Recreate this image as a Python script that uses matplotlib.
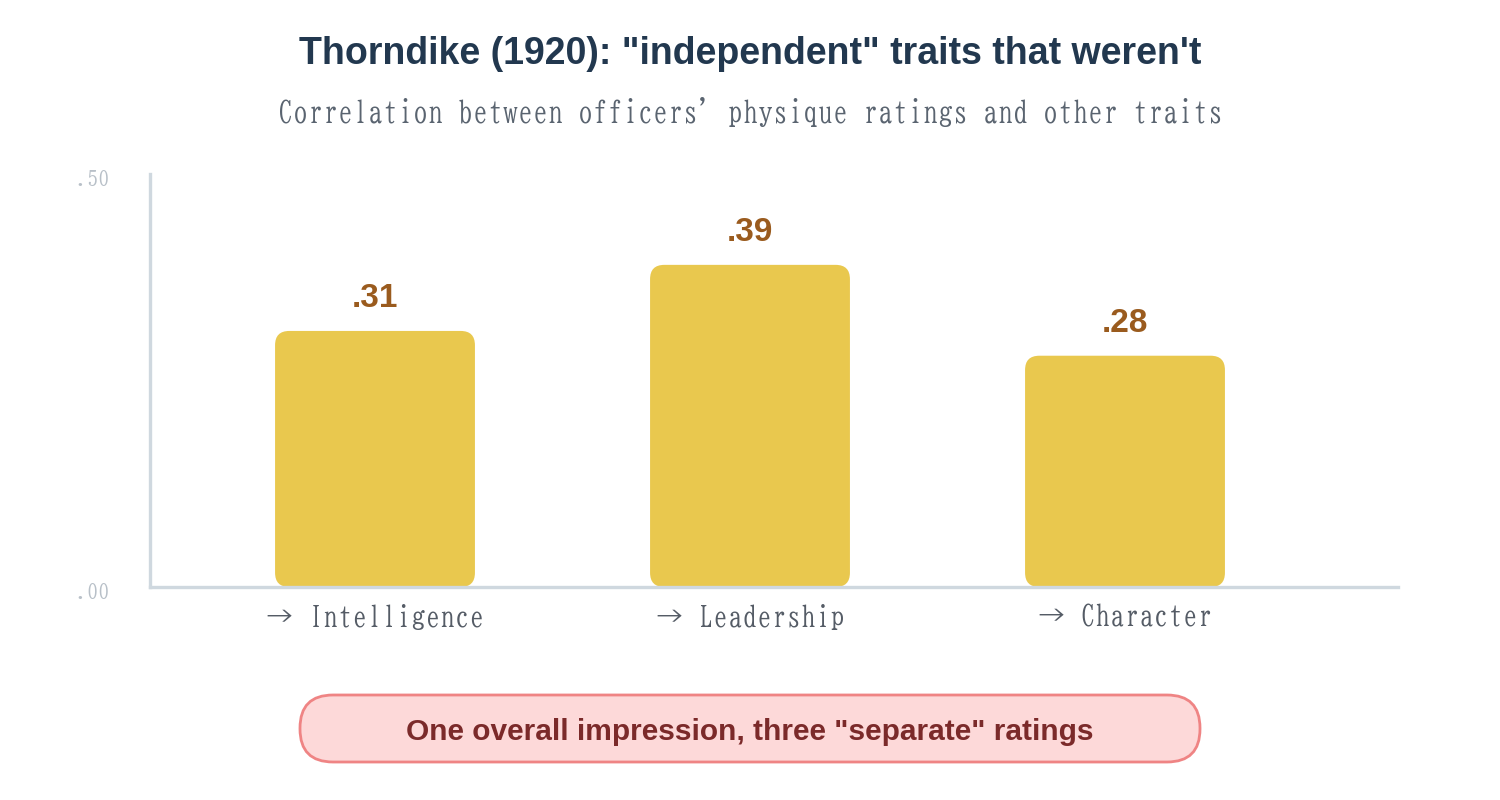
import matplotlib
matplotlib.use("Agg")
import matplotlib.pyplot as plt
from matplotlib.patches import FancyBboxPatch
from matplotlib.transforms import ScaledTranslation

categories = ["Intelligence", "Leadership", "Character"]
values = [0.31, 0.39, 0.28]
value_labels = [".31", ".39", ".28"]
ytick_values = [0.0, 0.5]
ytick_labels = [".00", ".50"]

title = "Thorndike (1920): \"independent\" traits that weren't"
subtitle = "Correlation between officers' physique ratings and other traits"
note = "One overall impression, three \"separate\" ratings"

MINCHO = ["BIZ UDMincho", "DejaVu Serif"]
SANS = ["Liberation Sans", "DejaVu Sans"]

fig = plt.figure(figsize=(15, 8), dpi=100)

# full-figure overlay in pixel units for the note box
bg = fig.add_axes([0, 0, 1, 1], zorder=0)
bg.set_xlim(0, 1500)
bg.set_ylim(800, 0)
bg.axis("off")

ax = fig.add_axes([0.1, 0.26625, 0.832, 0.51625], zorder=1)
ax.patch.set_alpha(0)

x_unit_px = 375.0
y_unit_px = 825.6
bar_w = 0.533
rad = 0.038
for i, v in enumerate(values):
    p = FancyBboxPatch((i - bar_w / 2, 0), bar_w, v,
                       boxstyle=f"round,pad=0,rounding_size={rad}",
                       mutation_aspect=x_unit_px / y_unit_px,
                       facecolor="#E9C84E", edgecolor="none", zorder=2)
    ax.add_patch(p)
    ax.text(i, v + 0.039, value_labels[i], ha="center", va="center",
            fontsize=24, fontweight="bold", color="#9A5B1E", family=SANS)

ax.set_xlim(-0.6, 2.728)
ax.set_ylim(0, 0.5)
ax.set_xticks(range(len(categories)))
ax.set_xticklabels(["\u2192 " + c for c in categories], family=MINCHO,
                   fontsize=21, color="#555C66")
ax.set_yticks(ytick_values)
ax.set_yticklabels(ytick_labels, family=MINCHO, fontsize=16, color="#B8C0C8")
ax.tick_params(axis="both", length=0)
ax.tick_params(axis="x", pad=12)
ax.tick_params(axis="y", pad=29)
shift = ScaledTranslation(0, -4 / 100, fig.dpi_scale_trans)
for lab in ax.get_yticklabels():
    lab.set_transform(lab.get_transform() + shift)
for s in ["top", "right"]:
    ax.spines[s].set_visible(False)
for s in ["left", "bottom"]:
    ax.spines[s].set_color("#CFD8DF")
    ax.spines[s].set_linewidth(2.4)

fig.text(0.5, 1 - 54 / 800, title, ha="center", va="center", fontsize=27,
         fontweight="bold", color="#22384F", family=SANS)
fig.text(0.5, 1 - 112 / 800, subtitle, ha="center", va="center", fontsize=21.6,
         color="#5A6470", family=MINCHO)

box = FancyBboxPatch((300, 695), 900, 67,
                     boxstyle="round,pad=0,rounding_size=33",
                     facecolor="#FDD9D9", edgecolor="#EF8484", linewidth=2)
bg.add_patch(box)
fig.text(0.5, 1 - 732 / 800, note, ha="center", va="center", fontsize=21.5,
         fontweight="bold", color="#7B2A2A", family=SANS)

fig.savefig("out.png", dpi=100, facecolor="white")
